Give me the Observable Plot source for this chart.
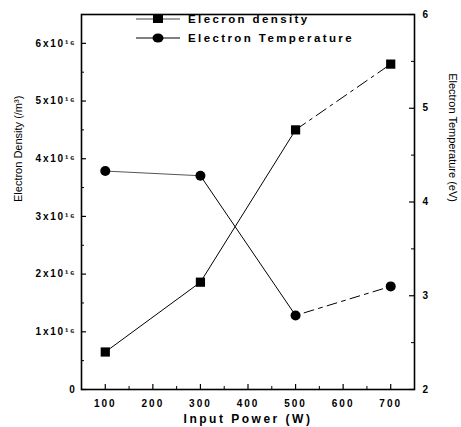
<!DOCTYPE html>
<html>
<head>
<meta charset="utf-8">
<script src="https://cdn.jsdelivr.net/npm/d3@7"></script>
<script src="https://cdn.jsdelivr.net/npm/@observablehq/plot@0.6"></script>
<style>
  html, body { margin: 0; padding: 0; background: #fff; }
  #wrap { position: relative; width: 461px; height: 427px; font-family: "Liberation Sans", Arial, sans-serif; }
  #wrap svg { position: absolute; left: 0; top: 0; }
  g[aria-label="x-axis tick label"] text { letter-spacing: 2px; }
  g[aria-label="y-axis tick label"] text { letter-spacing: 1.8px; }
  .legend { position: absolute; left: 136px; top: 9px; font: bold 11.5px "Liberation Sans", Arial, sans-serif; letter-spacing: 2.4px; color: #000; }
  .legend .row { display: flex; align-items: center; height: 19px; }
  .legend svg { position: static !important; margin-right: 8px; }
</style>
</head>
<body>
<div id="wrap"></div>
<script>
// ---- data ----
const power = [100, 300, 500, 700];                       // Input Power (W)
const density = [0.65e16, 1.86e16, 4.5e16, 5.64e16];     // Electron density (/m^3)
const temperature = [4.33, 4.28, 2.79, 3.1];              // Electron temperature (eV)
const seriesNames = ["Elecron density", "Electron Temperature"];
const xTicks = [100, 200, 300, 400, 500, 600, 700];
const xMinor = [50, 150, 250, 350, 450, 550, 650, 750];
const densTicks = [0, 1e16, 2e16, 3e16, 4e16, 5e16, 6e16];
const densMinor = [0.5e16, 1.5e16, 2.5e16, 3.5e16, 4.5e16, 5.5e16, 6.5e16];
const tempTicks = [2, 3, 4, 5, 6];
const tempMinor = [2.5, 3.5, 4.5, 5.5];
const xLabel = "Input Power (W)";
const yLabel = "Electron Density (/m\u00B3)";
const y2Label = "Electron Temperature (eV)";

// ---- secondary axis mapping: temperature [2,6] onto density [0,6.5e16] ----
const dMax = 6.5e16, tMin = 2, tMax = 6;
const toY = t => (t - tMin) / (tMax - tMin) * dMax;
const fromY = y => tMin + y / dMax * (tMax - tMin);

const dens = power.map((p, i) => ({p, v: density[i]}));
const temp = power.map((p, i) => ({p, v: toY(temperature[i])}));

const sup = {"0":"\u2070","1":"\u00B9","2":"\u00B2","3":"\u00B3","4":"\u2074","5":"\u2075","6":"\u2076","7":"\u2077","8":"\u2078","9":"\u2079"};
const fmtDens = d => d === 0 ? "0" : `${Math.round(d / 1e16)}x10${"16".split("").map(c => sup[c]).join("")}`;

const font = "Liberation Sans, Arial, sans-serif";
const W = 461, H = 427, mL = 81, mR = 47, mT = 14, mB = 38;
const pw = W - mL - mR, ph = H - mT - mB;

const chart = Plot.plot({
  width: W,
  height: H,
  marginLeft: mL,
  marginRight: mR,
  marginTop: mT,
  marginBottom: mB,
  style: {fontFamily: font, background: "white", color: "black"},
  x: {domain: [50, 750]},
  y: {domain: [0, dMax]},
  marks: [
    // inward ticks
    Plot.tickX(xTicks, {x: d => d, insetTop: ph - 5, stroke: "black", strokeWidth: 1.2}),
    Plot.tickX(xMinor, {x: d => d, insetTop: ph - 3, stroke: "black"}),
    Plot.tickY(densTicks, {y: d => d, insetRight: pw - 5, stroke: "black", strokeWidth: 1.2}),
    Plot.tickY(densMinor, {y: d => d, insetRight: pw - 3, stroke: "black"}),
    Plot.tickY(tempTicks.map(toY), {y: d => d, insetLeft: pw - 5, stroke: "black", strokeWidth: 1.2}),
    Plot.tickY(tempMinor.map(toY), {y: d => d, insetLeft: pw - 3, stroke: "black"}),
    Plot.frame({stroke: "black", strokeWidth: 1.6}),
    // tick labels
    Plot.axisX(xTicks, {tickSize: 0, tickPadding: 10, fontSize: 10, fontWeight: "bold", label: null}),
    Plot.axisY(densTicks, {tickSize: 0, tickPadding: 5, fontSize: 10, fontWeight: "bold", tickFormat: fmtDens, label: null}),
    Plot.axisY(tempTicks.map(toY), {anchor: "right", tickSize: 0, tickPadding: 8, fontSize: 10, fontWeight: "bold",
      tickFormat: d => String(Math.round(fromY(d))), label: null}),
    // axis titles
    Plot.text([yLabel], {frameAnchor: "left", dx: -63, rotate: -90, fontSize: 11, text: d => d}),
    Plot.text([y2Label], {frameAnchor: "right", dx: 38, rotate: 90, fontSize: 11, text: d => d}),
    Plot.text([xLabel], {frameAnchor: "bottom", dy: 33, fontSize: 12, fontWeight: "bold", text: d => d}),
    // density series
    Plot.line(dens.slice(0, 3), {x: "p", y: "v", stroke: "black", strokeWidth: 1}),
    Plot.line(dens.slice(2), {x: "p", y: "v", stroke: "black", strokeWidth: 1, strokeDasharray: "12,5,3,5"}),
    Plot.dot(dens, {x: "p", y: "v", symbol: "square", r: 5.2, fill: "black", stroke: "none"}),
    // temperature series
    Plot.line(temp.slice(0, 2), {x: "p", y: "v", stroke: "#555", strokeWidth: 1}),
    Plot.line(temp.slice(1, 3), {x: "p", y: "v", stroke: "black", strokeWidth: 1}),
    Plot.line(temp.slice(2), {x: "p", y: "v", stroke: "black", strokeWidth: 1, strokeDasharray: "4,5,10,5"}),
    Plot.dot(temp, {x: "p", y: "v", symbol: "circle", r: 5, fill: "black", stroke: "none"})
  ]
});

const wrap = document.getElementById("wrap");
wrap.appendChild(chart);
chart.querySelectorAll('g[aria-label="text"] text').forEach(t => {
  if (t.textContent === xLabel) t.style.letterSpacing = "2.5px";
});

// legend (inside the plot area, top)
const legend = document.createElement("div");
legend.className = "legend";
legend.innerHTML = `
  <div class="row"><svg width="44" height="12"><line x1="0" y1="6" x2="44" y2="6" stroke="#444" stroke-width="1"/><rect x="17" y="2" width="10" height="8" fill="black"/></svg><span>${seriesNames[0]}</span></div>
  <div class="row"><svg width="44" height="12"><line x1="0" y1="6" x2="44" y2="6" stroke="black" stroke-width="1"/><ellipse cx="22" cy="6" rx="5.5" ry="4.5" fill="black"/></svg><span>${seriesNames[1]}</span></div>`;
wrap.appendChild(legend);
</script>
</body>
</html>
